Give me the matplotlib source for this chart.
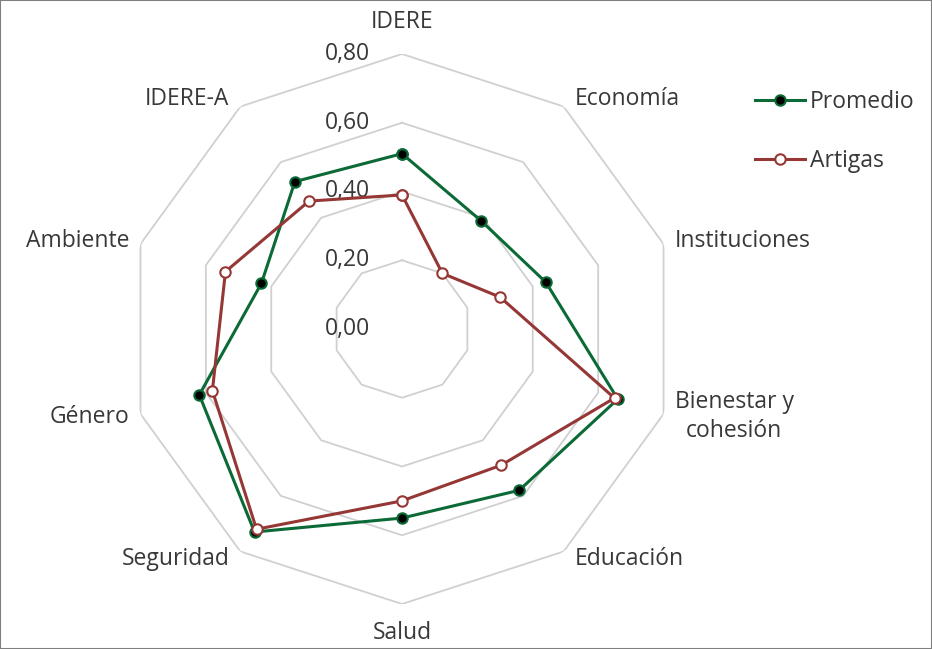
import numpy as np
import matplotlib
matplotlib.use("Agg")
import matplotlib.pyplot as plt
from matplotlib.patches import Rectangle

plt.rcParams['font.family'] = ['Open Sans', 'DejaVu Sans']

# Data
categories = ['IDERE', 'Economía', 'Instituciones', 'Bienestar y\ncohesión', 'Educación',
              'Salud', 'Seguridad', 'Género', 'Ambiente', 'IDERE-A']
promedio = [0.51, 0.39, 0.44, 0.66, 0.58, 0.55, 0.73, 0.62, 0.43, 0.53]
artigas = [0.39, 0.20, 0.30, 0.65, 0.49, 0.50, 0.72, 0.58, 0.54, 0.46]
ring_values = [0.2, 0.4, 0.6, 0.8]
tick_labels = ['0,00', '0,20', '0,40', '0,60', '0,80']

green = '#0b6a35'
red = '#953735'
text_color = '#383838'
grid_color = '#d0d0d0'
fs = 16.5

n = len(categories)
angles = np.linspace(0, 2 * np.pi, n, endpoint=False)
closed = np.append(angles, angles[0])

fig = plt.figure(figsize=(9.32, 6.49), dpi=100)
ax = fig.add_axes([127 / 932, 45 / 649, 550 / 932, 550 / 649], projection='polar')
ax.set_theta_zero_location('N')
ax.set_theta_direction(-1)
ax.set_ylim(0, 0.8)
ax.grid(False)
ax.spines['polar'].set_visible(False)
ax.set_xticks([])
ax.set_yticks([])
ax.patch.set_alpha(0)

# decagon grid
for rv in ring_values:
    ax.plot(closed, [rv] * (n + 1), color=grid_color, lw=1.3, zorder=1)

# radial tick labels
for i, lab in enumerate(tick_labels):
    ax.annotate(lab, xy=(0, i * 0.2), xytext=(-32, 0), textcoords='offset pixels',
                ha='right', va='center', fontsize=fs, color=text_color, zorder=2)

# series
ax.plot(closed, promedio + promedio[:1], color=green, lw=2.2, marker='o', ms=7.5,
        mfc='black', mec=green, mew=1.5, label='Promedio', zorder=4)
ax.plot(closed, artigas + artigas[:1], color=red, lw=2.2, marker='o', ms=7.5,
        mfc='white', mec=red, mew=1.5, label='Artigas', zorder=5)

# category labels
for ang, cat in zip(angles, categories):
    s, c = np.sin(ang), np.cos(ang)
    if abs(s) < 0.1:
        ha = 'center'
        offx = 0
        offy = 32 if c > 0 else -29
    else:
        ha = 'left' if s > 0 else 'right'
        offx = 11 if s > 0 else -11
        offy = 9 * c
    ax.annotate(cat, xy=(ang, 0.8), xytext=(offx, offy), textcoords='offset pixels',
                ha=ha, va='center', fontsize=fs, color=text_color, linespacing=1.3,
                multialignment='center', annotation_clip=False)

leg = fig.legend(loc='upper left', bbox_to_anchor=(0.81, 0.861), frameon=False,
                 fontsize=fs, labelspacing=1.52, handlelength=2.2, handletextpad=0.2,
                 borderpad=0, borderaxespad=0)
for t in leg.get_texts():
    t.set_color(text_color)

fig.patches.append(Rectangle((0, 0), 1, 1, transform=fig.transFigure, fill=False,
                             edgecolor='#7f7f7f', lw=1.5))

fig.savefig('out.png', dpi=100)
